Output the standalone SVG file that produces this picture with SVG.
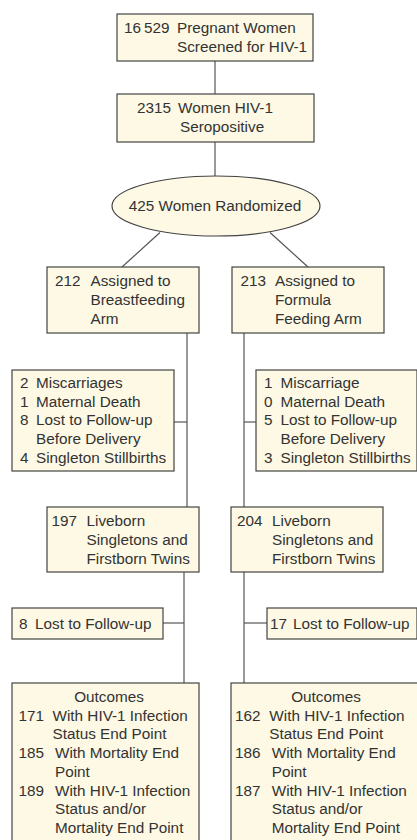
<svg xmlns="http://www.w3.org/2000/svg" width="417" height="840" viewBox="0 0 417 840">
<style>
.box{fill:#fdf9e4;stroke:#444;stroke-width:1.2}
.ln{stroke:#555;stroke-width:1.2;fill:none}
text{font-family:"Liberation Sans",Arial,sans-serif;font-size:15.3px;fill:#333}
.c{text-anchor:middle}
</style>
<rect width="417" height="840" fill="#fff"/>
<g id="connectors">
<line class="ln" x1="215" y1="61" x2="215" y2="94"/>
<line class="ln" x1="215" y1="142" x2="215" y2="176"/>
<line class="ln" x1="160" y1="232.5" x2="122" y2="267"/>
<line class="ln" x1="270" y1="232.5" x2="308" y2="267"/>
<line class="ln" x1="187" y1="333" x2="187" y2="507"/>
<line class="ln" x1="174" y1="422" x2="187" y2="422"/>
<line class="ln" x1="244" y1="333" x2="244" y2="507"/>
<line class="ln" x1="244" y1="422" x2="256" y2="422"/>
<line class="ln" x1="184" y1="572" x2="184" y2="683"/>
<line class="ln" x1="163" y1="623" x2="184" y2="623"/>
<line class="ln" x1="244" y1="572" x2="244" y2="683"/>
<line class="ln" x1="244" y1="623" x2="267" y2="623"/>
</g>
<g id="screened">
<rect class="box" x="117" y="14" width="196" height="47"/>
<text x="124" y="33"><tspan>16</tspan><tspan dx="3">529</tspan></text>
<text x="177" y="33">Pregnant Women</text>
<text x="177" y="52">Screened for HIV-1</text>
</g>
<g id="seropositive">
<rect class="box" x="117" y="94" width="197" height="48"/>
<text x="137" y="113">2315</text>
<text x="178" y="113">Women HIV-1</text>
<text x="180" y="132">Seropositive</text>
</g>
<g id="randomized">
<ellipse class="box" cx="216" cy="206" rx="104" ry="30"/>
<text class="c" x="215" y="211">425 Women Randomized</text>
</g>
<g id="breastfeeding">
<rect class="box" x="47" y="267" width="152" height="66"/>
<text x="55" y="286">212</text>
<text x="90.5" y="286">Assigned to</text>
<text x="90.5" y="305">Breastfeeding</text>
<text x="90.5" y="324">Arm</text>
</g>
<g id="formula">
<rect class="box" x="232" y="267" width="152" height="66"/>
<text x="240.5" y="286">213</text>
<text x="275" y="286">Assigned to</text>
<text x="275" y="305">Formula</text>
<text x="275" y="324">Feeding Arm</text>
</g>
<g id="bf-losses">
<rect class="box" x="12" y="370" width="162" height="101"/>
<text x="20" y="387.7">2</text><text x="36" y="387.7">Miscarriages</text>
<text x="20" y="406.5">1</text><text x="36" y="406.5">Maternal Death</text>
<text x="20" y="425.3">8</text><text x="36" y="425.3">Lost to Follow-up</text>
<text x="36" y="444">Before Delivery</text>
<text x="20" y="462.8">4</text><text x="36" y="462.8">Singleton Stillbirths</text>
</g>
<g id="ff-losses">
<rect class="box" x="256" y="370" width="161" height="101"/>
<text x="264" y="387.7">1</text><text x="280.5" y="387.7">Miscarriage</text>
<text x="264" y="406.5">0</text><text x="280.5" y="406.5">Maternal Death</text>
<text x="264" y="425.3">5</text><text x="280.5" y="425.3">Lost to Follow-up</text>
<text x="280.5" y="444">Before Delivery</text>
<text x="264" y="462.8">3</text><text x="280.5" y="462.8">Singleton Stillbirths</text>
</g>
<g id="bf-liveborn">
<rect class="box" x="47" y="507" width="152" height="65"/>
<text x="51.5" y="526">197</text>
<text x="86.5" y="526">Liveborn</text>
<text x="86.5" y="545">Singletons and</text>
<text x="86.5" y="563.5">Firstborn Twins</text>
</g>
<g id="ff-liveborn">
<rect class="box" x="231" y="507" width="152" height="65"/>
<text x="237" y="526">204</text>
<text x="272" y="526">Liveborn</text>
<text x="272" y="545">Singletons and</text>
<text x="272" y="563.5">Firstborn Twins</text>
</g>
<g id="bf-lost">
<rect class="box" x="12" y="608" width="151" height="31"/>
<text x="19" y="629">8</text>
<text x="35" y="629">Lost to Follow-up</text>
</g>
<g id="ff-lost">
<rect class="box" x="267" y="608" width="150" height="31"/>
<text x="270" y="629">17</text>
<text x="293" y="629">Lost to Follow-up</text>
</g>
<g id="bf-outcomes">
<rect class="box" x="12" y="683" width="187" height="170"/>
<text class="c" x="109" y="702">Outcomes</text>
<text x="18.5" y="720.7">171</text><text x="52.5" y="720.7">With HIV-1 Infection</text>
<text x="52.5" y="739.3">Status End Point</text>
<text x="18.5" y="758.3">185</text><text x="55" y="758.3">With Mortality End</text>
<text x="55" y="776.7">Point</text>
<text x="18.5" y="795.7">189</text><text x="55" y="795.7">With HIV-1 Infection</text>
<text x="55" y="814.3">Status and/or</text>
<text x="55" y="833">Mortality End Point</text>
</g>
<g id="ff-outcomes">
<rect class="box" x="231" y="683" width="187" height="170"/>
<text class="c" x="326" y="702">Outcomes</text>
<text x="235" y="720.7">162</text><text x="269.3" y="720.7">With HIV-1 Infection</text>
<text x="269.3" y="739.3">Status End Point</text>
<text x="235" y="758.3">186</text><text x="271.7" y="758.3">With Mortality End</text>
<text x="271.7" y="776.7">Point</text>
<text x="235" y="795.7">187</text><text x="271.7" y="795.7">With HIV-1 Infection</text>
<text x="271.7" y="814.3">Status and/or</text>
<text x="271.7" y="833">Mortality End Point</text>
</g>
</svg>
